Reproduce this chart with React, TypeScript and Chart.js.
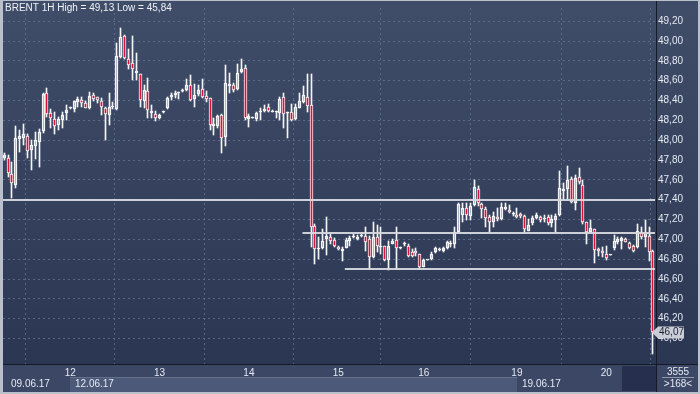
import React, { useEffect, useRef } from 'react';
import { Chart, registerables } from 'chart.js';
Chart.register(...registerables);

const opens = [47.82,47.82,47.66,47.55,48.01,48.02,48.04,47.90,47.94,47.98,48.09,48.48,48.27,48.21,48.15,48.20,48.27,48.32,48.31,48.39,48.41,48.38,48.32,48.46,48.44,48.40,48.32,48.25,48.33,48.31,48.84,49.05,48.82,48.78,48.68,48.67,48.40,48.50,48.27,48.26,48.22,48.28,48.32,48.44,48.46,48.48,48.50,48.51,48.56,48.42,48.47,48.52,48.45,48.43,48.14,48.14,48.25,48.03,48.55,48.56,48.52,48.69,48.73,48.21,48.22,48.21,48.28,48.29,48.33,48.28,48.28,48.27,48.44,48.27,48.28,48.21,48.32,48.39,48.44,48.35,47.13,46.90,46.91,47.00,47.02,46.99,46.92,46.88,46.91,46.98,47.02,47.00,47.03,47.03,47.00,46.82,47.02,46.92,46.93,46.79,46.95,46.99,46.91,46.95,46.93,46.87,46.88,46.85,46.72,46.79,46.80,46.87,46.89,46.88,46.91,46.95,46.95,47.07,47.25,47.32,47.24,47.35,47.51,47.36,47.31,47.23,47.17,47.23,47.21,47.31,47.30,47.26,47.25,47.26,47.24,47.08,47.16,47.22,47.23,47.21,47.23,47.16,47.20,47.25,47.49,47.51,47.61,47.37,47.63,47.55,47.17,47.07,47.10,46.90,46.88,46.85,46.84,46.91,46.97,46.98,47.00,46.96,46.93,46.92,47.07,47.02,47.03,46.88];
const highs = [47.87,47.85,47.78,48.14,48.10,48.16,48.06,48.00,48.08,48.11,48.48,48.53,48.31,48.28,48.23,48.28,48.35,48.33,48.40,48.44,48.44,48.40,48.49,48.48,48.44,48.43,48.33,48.48,48.39,48.98,49.13,49.06,48.92,49.05,48.88,48.67,48.56,48.63,48.35,48.29,48.26,48.29,48.44,48.48,48.50,48.49,48.52,48.62,48.66,48.57,48.56,48.62,48.50,48.43,48.22,48.25,48.26,48.76,48.68,48.58,48.77,48.82,48.76,48.26,48.23,48.28,48.32,48.35,48.36,48.30,48.29,48.44,48.48,48.28,48.36,48.36,48.48,48.55,48.67,48.67,47.15,47.02,47.10,47.23,47.05,47.01,46.93,46.92,47.01,47.03,47.05,47.04,47.06,47.12,47.03,47.18,47.14,47.12,46.93,46.98,47.00,47.12,46.92,46.97,46.95,46.90,46.91,46.85,46.80,46.79,46.87,46.92,46.91,46.92,46.98,46.98,47.12,47.37,47.37,47.37,47.37,47.60,47.54,47.37,47.33,47.25,47.28,47.32,47.37,47.37,47.35,47.28,47.32,47.27,47.25,47.21,47.24,47.27,47.24,47.25,47.25,47.25,47.26,47.69,47.57,47.74,47.63,47.65,47.72,47.60,47.18,47.20,47.10,46.91,46.92,46.93,46.84,47.04,47.02,47.02,47.01,46.97,46.94,47.15,47.12,47.20,47.12,46.89];
const lows = [47.80,47.63,47.42,47.52,47.88,47.95,47.82,47.70,47.81,47.73,48.07,48.23,48.12,48.06,48.10,48.12,48.20,48.31,48.28,48.33,48.33,48.32,48.31,48.40,48.38,48.25,48.00,48.15,48.31,48.30,48.83,48.82,48.72,48.61,48.61,48.33,48.32,48.22,48.22,48.19,48.21,48.27,48.31,48.41,48.43,48.42,48.49,48.50,48.40,48.33,48.45,48.43,48.39,48.10,48.05,48.12,47.87,47.94,48.48,48.49,48.51,48.68,48.20,48.13,48.22,48.19,48.20,48.28,48.28,48.28,48.22,48.20,48.12,48.02,48.19,48.20,48.32,48.38,48.28,46.92,46.75,46.80,46.90,46.84,46.95,46.92,46.89,46.78,46.91,46.93,47.01,46.99,47.02,46.88,46.70,46.81,46.87,46.85,46.78,46.69,46.95,46.70,46.90,46.93,46.82,46.82,46.83,46.70,46.72,46.79,46.79,46.86,46.88,46.87,46.90,46.92,46.91,47.06,47.18,47.20,47.20,47.34,47.34,47.22,47.12,47.07,47.12,47.19,47.20,47.30,47.27,47.24,47.22,47.22,47.07,47.08,47.14,47.21,47.18,47.18,47.14,47.12,47.07,47.24,47.40,47.40,47.37,47.30,47.56,47.15,46.95,47.06,46.76,46.83,46.82,46.79,46.84,46.89,46.95,46.90,46.97,46.90,46.87,46.91,47.00,46.92,46.78,45.84];
const closes = [47.85,47.67,47.57,48.02,48.04,48.06,47.89,47.95,48.00,48.08,48.47,48.26,48.22,48.14,48.21,48.25,48.30,48.33,48.40,48.42,48.37,48.32,48.45,48.42,48.41,48.33,48.26,48.33,48.34,48.85,49.04,48.83,48.76,48.72,48.70,48.41,48.51,48.30,48.29,48.22,48.25,48.28,48.43,48.46,48.48,48.49,48.50,48.56,48.41,48.46,48.51,48.44,48.42,48.15,48.16,48.24,48.02,48.58,48.57,48.51,48.68,48.72,48.22,48.24,48.22,48.27,48.29,48.31,48.29,48.29,48.28,48.42,48.26,48.27,48.20,48.33,48.40,48.46,48.34,47.12,46.90,46.90,46.98,47.03,46.98,46.93,46.90,46.90,46.99,47.01,47.02,47.02,47.04,46.97,46.82,47.02,46.93,46.92,46.79,46.93,46.98,46.91,46.91,46.95,46.83,46.83,46.86,46.72,46.79,46.79,46.85,46.91,46.90,46.91,46.97,46.95,47.07,47.36,47.32,47.25,47.34,47.53,47.37,47.31,47.22,47.18,47.24,47.21,47.33,47.33,47.28,47.26,47.23,47.24,47.10,47.14,47.22,47.25,47.20,47.22,47.16,47.21,47.24,47.52,47.51,47.60,47.38,47.62,47.58,47.17,47.07,47.11,46.89,46.88,46.86,46.81,46.84,46.98,47.00,47.01,46.97,46.91,46.88,47.08,47.02,47.06,46.87,46.07];

const dayTickIndex = [17, 40, 63, 86, 108, 132, 155];
const dayTickLabels = ['12', '13', '14', '15', '16', '19', '20'];
const weekStartIndex = [0, 17, 132];
const weekLabels = ['09.06.17', '12.06.17', '19.06.17'];
const yTicks = [46.0, 46.2, 46.4, 46.6, 46.8, 47.0, 47.2, 47.4, 47.6, 47.8, 48.0, 48.2, 48.4, 48.6, 48.8, 49.0, 49.2];
const levelValues = [47.395, 47.065, 46.703];
const levelStartIndex = [-0.3, 76.8, 87.7];
const titleText = 'BRENT 1H High = 49,13 Low = 45,84';
const lastPrice = 46.07;
const cornerTop = '3555';
const cornerBottom = '>168<';

const FONT = '"Liberation Sans", Arial, sans-serif';
const fmt = (v: number) => v.toFixed(2).replace('.', ',');

export default function App() {
  const ref = useRef<HTMLCanvasElement | null>(null);
  useEffect(() => {
    const canvas = ref.current;
    if (!canvas) return;
    const idx = opens.map((_, i) => i);
    const upperWick = idx.map(i => ({ x: i, y: [Math.max(opens[i], closes[i]), highs[i]] }));
    const lowerWick = idx.map(i => ({ x: i, y: [lows[i], Math.min(opens[i], closes[i])] }));
    const bodies = idx.map(i => ({ x: i, y: [opens[i], closes[i]] }));

    const bgPlugin = {
      id: 'bg',
      beforeDraw(chart: any) {
        const { ctx, chartArea: ca, scales } = chart;
        const W = chart.width, H = chart.height;
        ctx.save();
        ctx.fillStyle = '#b9bfcb';
        ctx.fillRect(0, 0, W, H);
        const g = ctx.createLinearGradient(0, 1, 0, ca.bottom);
        g.addColorStop(0, 'rgb(64,77,105)');
        g.addColorStop(1, 'rgb(43,54,82)');
        ctx.fillStyle = g;
        ctx.fillRect(3, 1, W - 5, ca.bottom - 1);
        ctx.fillStyle = 'rgb(59,71,100)';
        ctx.fillRect(3, ca.bottom, W - 5, H - 2 - ca.bottom);
        const xs = scales.x;
        const rowTop = ca.bottom + 13;
        const rowBot = H - 2;
        const darkStart = 622;
        weekStartIndex.forEach((wi, k) => {
          const x0 = k === 0 ? ca.left : Math.round(xs.getPixelForValue(wi));
          const x1 = k + 1 < weekStartIndex.length ? Math.round(xs.getPixelForValue(weekStartIndex[k + 1])) : darkStart;
          if (k % 2 === 1) {
            ctx.fillStyle = 'rgb(77,89,120)';
            ctx.fillRect(x0, rowTop, x1 - x0, rowBot - rowTop);
            ctx.fillStyle = 'rgb(100,112,140)';
            ctx.fillRect(x0, rowTop, x1 - x0, 1);
          }
          ctx.fillStyle = '#e4e9f2';
          ctx.font = '10px ' + FONT;
          ctx.textBaseline = 'middle';
          ctx.textAlign = 'left';
          ctx.fillText(weekLabels[k], x0 + (k === 0 ? 8 : 5), rowTop + 7);
        });
        ctx.fillStyle = 'rgb(38,48,78)';
        ctx.fillRect(darkStart, ca.bottom + 2, ca.right - darkStart, rowBot - ca.bottom - 3);
        ctx.restore();
      },
      beforeDatasetsDraw(chart: any) {
        chart.getSortedVisibleDatasetMetas().forEach((meta: any) => {
          meta.data.forEach((el: any) => {
            el.x = Math.floor(el.x) + 0.5;
            el.y = Math.round(el.y);
            el.base = Math.round(el.base);
          });
        });
      },
      afterDraw(chart: any) {
        const { ctx, chartArea: ca, scales } = chart;
        const W = chart.width, H = chart.height;
        const xs = scales.x, ys = scales.y;
        ctx.save();
        ctx.fillStyle = '#141a26';
        ctx.fillRect(3, ca.bottom, W - 5, 1);
        ctx.fillRect(ca.right, 1, 1, H - 3);
        ctx.strokeStyle = 'rgba(214,216,222,0.95)';
        ctx.lineWidth = 2;
        levelValues.forEach((v, k) => {
          const y = Math.round(ys.getPixelForValue(v));
          const x0 = Math.max(ca.left, xs.getPixelForValue(levelStartIndex[k]));
          ctx.beginPath();
          ctx.moveTo(x0, y);
          ctx.lineTo(ca.right - 1, y);
          ctx.stroke();
        });
        ctx.font = '10px ' + FONT;
        ctx.fillStyle = '#eef2f8';
        ctx.textBaseline = 'middle';
        ctx.textAlign = 'left';
        ctx.fillText(titleText, 5, 8.5);
        const py = Math.round(ys.getPixelForValue(lastPrice)) + 0.5;
        ctx.fillStyle = '#c9cdd5';
        ctx.beginPath();
        ctx.moveTo(ca.right - 4, py);
        ctx.lineTo(ca.right + 2, py - 6);
        ctx.lineTo(ca.right + 28, py - 6);
        ctx.lineTo(ca.right + 28, py + 6);
        ctx.lineTo(ca.right + 2, py + 6);
        ctx.closePath();
        ctx.fill();
        ctx.fillStyle = '#1b2235';
        ctx.fillText(fmt(lastPrice), ca.right + 3, py);
        ctx.fillStyle = '#e4e9f2';
        ctx.textAlign = 'center';
        const cx = (ca.right + W) / 2;
        ctx.fillText(cornerTop, cx, ca.bottom + 8);
        ctx.fillText(cornerBottom, cx, ca.bottom + 20);
        ctx.fillStyle = 'rgba(200,206,218,0.6)';
        ctx.fillRect(ca.right + 6, ca.bottom + 13, W - ca.right - 12, 1);
        ctx.restore();
      },
    };

    const chart = new Chart(canvas, {
      type: 'bar',
      data: {
        datasets: [
          {
            data: bodies as any,
            backgroundColor: (c: any) => (closes[c.dataIndex] < opens[c.dataIndex] ? '#e0103c' : 'rgba(0,0,0,0)'),
            borderColor: '#f4f4f4',
            borderWidth: 1,
            borderSkipped: false,
            barThickness: 3,
            minBarLength: 1,
            grouped: false,
          },
          {
            data: upperWick as any,
            backgroundColor: '#f4f4f4',
            borderWidth: 0,
            barThickness: 1,
            grouped: false,
          },
          {
            data: lowerWick as any,
            backgroundColor: '#f4f4f4',
            borderWidth: 0,
            barThickness: 1,
            grouped: false,
          },
        ],
      },
      options: {
        animation: false,
        responsive: false,
        maintainAspectRatio: false,
        layout: { padding: { left: 3, top: 5, right: 0, bottom: 0 } },
        plugins: { legend: { display: false }, tooltip: { enabled: false }, title: { display: false } },
        scales: {
          x: {
            type: 'linear',
            min: -0.3,
            max: 167.8,
            offset: false,
            afterBuildTicks: (s: any) => { s.ticks = dayTickIndex.map(v => ({ value: v })); },
            afterFit: (s: any) => { s.height = 30; },
            ticks: {
              autoSkip: false,
              maxRotation: 0,
              padding: 3,
              color: '#e4e9f2',
              font: { family: FONT, size: 10 },
              callback: (v: any) => { const k = dayTickIndex.indexOf(v); return k >= 0 ? dayTickLabels[k] : ''; },
            },
            grid: { color: 'rgba(100,115,148,0.8)', drawTicks: false, lineWidth: 1 },
            border: { display: false, dash: [2, 3] },
          },
          y: {
            type: 'linear',
            position: 'right',
            min: 45.743,
            max: 49.333,
            afterBuildTicks: (s: any) => { s.ticks = yTicks.map(v => ({ value: v })); },
            afterFit: (s: any) => { s.width = 44; },
            ticks: {
              padding: 2,
              color: '#e4e9f2',
              font: { family: FONT, size: 10 },
              callback: (v: any) => fmt(Number(v)),
            },
            grid: { color: 'rgba(100,115,148,0.8)', drawTicks: false, lineWidth: 1 },
            border: { display: false, dash: [2, 3] },
          },
        },
      } as any,
      plugins: [bgPlugin],
    });
    return () => chart.destroy();
  }, []);
  return (
    <div style={{ position: 'fixed', left: 0, top: 0, width: 700, height: 394 }}>
      <canvas ref={ref} width={700} height={394} style={{ display: 'block', width: 700, height: 394 }} />
    </div>
  );
}
